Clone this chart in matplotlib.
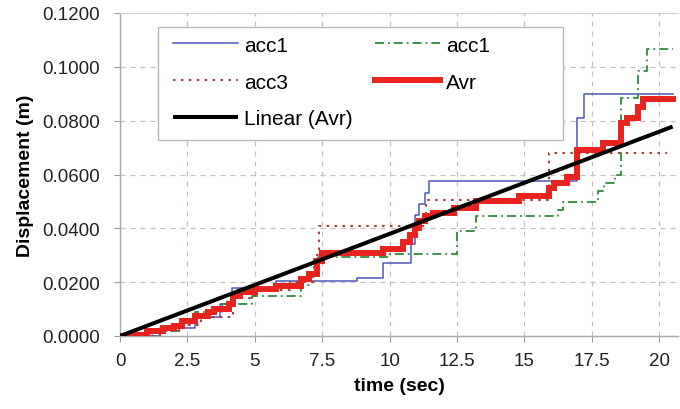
import numpy as np
import matplotlib
matplotlib.use("Agg")
import matplotlib.pyplot as plt
from matplotlib.patches import Rectangle

plt.rcParams['font.family'] = ['Liberation Sans', 'DejaVu Sans']

# acc1 (blue, solid) - step series
acc1_t = [0, 1.5, 2.8, 3.7, 4.15, 5.8, 8.8, 9.75, 10.8, 10.95, 11.1, 11.3, 11.45, 16.95, 17.2, 20.5]
acc1_y = [0, 0.003, 0.007, 0.012, 0.0178, 0.0206, 0.0217, 0.027, 0.034, 0.045, 0.049, 0.053, 0.0576, 0.081, 0.090, 0.090]

# acc1 (green, dash-dot)
acc1b_t = [0, 1.2, 2.2, 2.8, 3.8, 4.9, 6.7, 7.0, 7.35, 10.0, 12.5, 13.2, 16.25, 16.45, 17.75, 17.95,
           18.35, 18.6, 19.2, 19.55, 20.5]
acc1b_y = [0, 0.002, 0.005, 0.009, 0.012, 0.015, 0.019, 0.022, 0.0295, 0.0306, 0.039, 0.0445, 0.0467,
           0.0497, 0.054, 0.0568, 0.0598, 0.0885, 0.0985, 0.1067, 0.1067]

# acc3 (brown, dotted)
acc3_t = [0, 1.5, 2.2, 3.0, 4.2, 5.0, 6.3, 7.2, 7.4, 11.35, 15.9, 20.3]
acc3_y = [0, 0.002, 0.004, 0.0072, 0.014, 0.017, 0.020, 0.030, 0.0407, 0.0505, 0.068, 0.068]

# Avr (red, thick)
avr_t = [0, 0.5, 1.0, 1.6, 2.0, 2.3, 2.8, 3.25, 3.5, 4.05, 4.2, 4.45, 5.0, 5.8, 6.7, 7.0, 7.3, 7.5,
         9.75, 10.5, 10.75, 10.95, 11.1, 11.3, 11.6, 12.4, 13.2, 14.8, 15.9, 16.1, 16.6, 16.95, 17.9,
         18.6, 18.8, 19.2, 19.4, 20.5]
avr_y = [0, 0.0005, 0.0019, 0.0028, 0.0037, 0.0056, 0.0075, 0.009, 0.010, 0.012, 0.015, 0.0165, 0.0176,
         0.0187, 0.021, 0.023, 0.0277, 0.0307, 0.0325, 0.035, 0.0374, 0.040, 0.0426, 0.0445, 0.0456,
         0.0475, 0.050, 0.052, 0.055, 0.057, 0.059, 0.069, 0.0718, 0.079, 0.081, 0.085, 0.088, 0.088]

# Linear (Avr) trend line end points
lin_t = [0, 20.5]
lin_y = [0, 0.0778]

x_ticks = [0, 2.5, 5, 7.5, 10, 12.5, 15, 17.5, 20]
x_labels = ['0', '2.5', '5', '7.5', '10', '12.5', '15', '17.5', '20']
y_ticks = [0, 0.02, 0.04, 0.06, 0.08, 0.10, 0.12]

fig = plt.figure(figsize=(6.8, 4.1), dpi=100)
ax = fig.add_axes([120 / 680, 73 / 410, 558 / 680, 323 / 410])

l_blue, = ax.plot(acc1_t, acc1_y, drawstyle='steps-post', color='#4a58b5', lw=1.1, label='acc1', zorder=3)
l_green, = ax.plot(acc1b_t, acc1b_y, drawstyle='steps-post', color='#2f8a3c', lw=1.3,
                   dashes=(5, 2.2, 1, 2.2), label='acc1', zorder=3)
l_brown, = ax.plot(acc3_t, acc3_y, drawstyle='steps-post', color='#a3403a', lw=1.5,
                   dashes=(1.2, 2.6), label='acc3', zorder=3)
l_red, = ax.plot(avr_t, avr_y, drawstyle='steps-post', color='#e8231f', lw=4.3, label='Avr',
                 zorder=4, solid_joinstyle='miter')
l_black, = ax.plot(lin_t, lin_y, color='black', lw=2.9, label='Linear (Avr)', zorder=5,
                   solid_capstyle='butt')

ax.set_xlim(0, 20.7)
ax.set_ylim(0, 0.12)
ax.set_xticks(x_ticks)
ax.set_xticklabels(x_labels)
ax.set_yticks(y_ticks)
ax.set_yticklabels(['%.4f' % v for v in y_ticks])
ax.tick_params(labelsize=13.5, colors='#999999', labelcolor='#222222', length=4, width=0.8)
ax.tick_params(axis='y', pad=10.5)
ax.tick_params(axis='x', pad=7.5)

ax.grid(True, color='#c9bdbd', lw=0.9, dashes=(4, 4))
ax.set_axisbelow(True)
for s in ['left', 'bottom']:
    ax.spines[s].set_color('#a8a8a8')
    ax.spines[s].set_linewidth(1.0)
ax.spines['top'].set_color('#d0d0d0')
ax.spines['right'].set_visible(False)

ax.set_xlabel('time (sec)', fontsize=14, fontweight='bold', labelpad=6)
ax.set_ylabel('Displacement (m)', fontsize=14, fontweight='bold', labelpad=6)

# legend box frame
ax.add_patch(Rectangle((0.068, 0.607), 0.726, 0.35, transform=ax.transAxes, facecolor='white',
                       edgecolor='#b8b8b8', lw=1.0, zorder=6))
leg = ax.legend([l_blue, l_brown, l_black, l_green, l_red],
                ['acc1', 'acc3', 'Linear (Avr)', 'acc1', 'Avr'],
                ncol=2, frameon=False, loc='upper left', bbox_to_anchor=(0.095, 0.93),
                borderpad=0, borderaxespad=0, fontsize=15, handlelength=3.1,
                handletextpad=0.3, columnspacing=1.1, labelspacing=0.86)
leg.set_zorder(7)

fig.savefig('out.png', dpi=100)
